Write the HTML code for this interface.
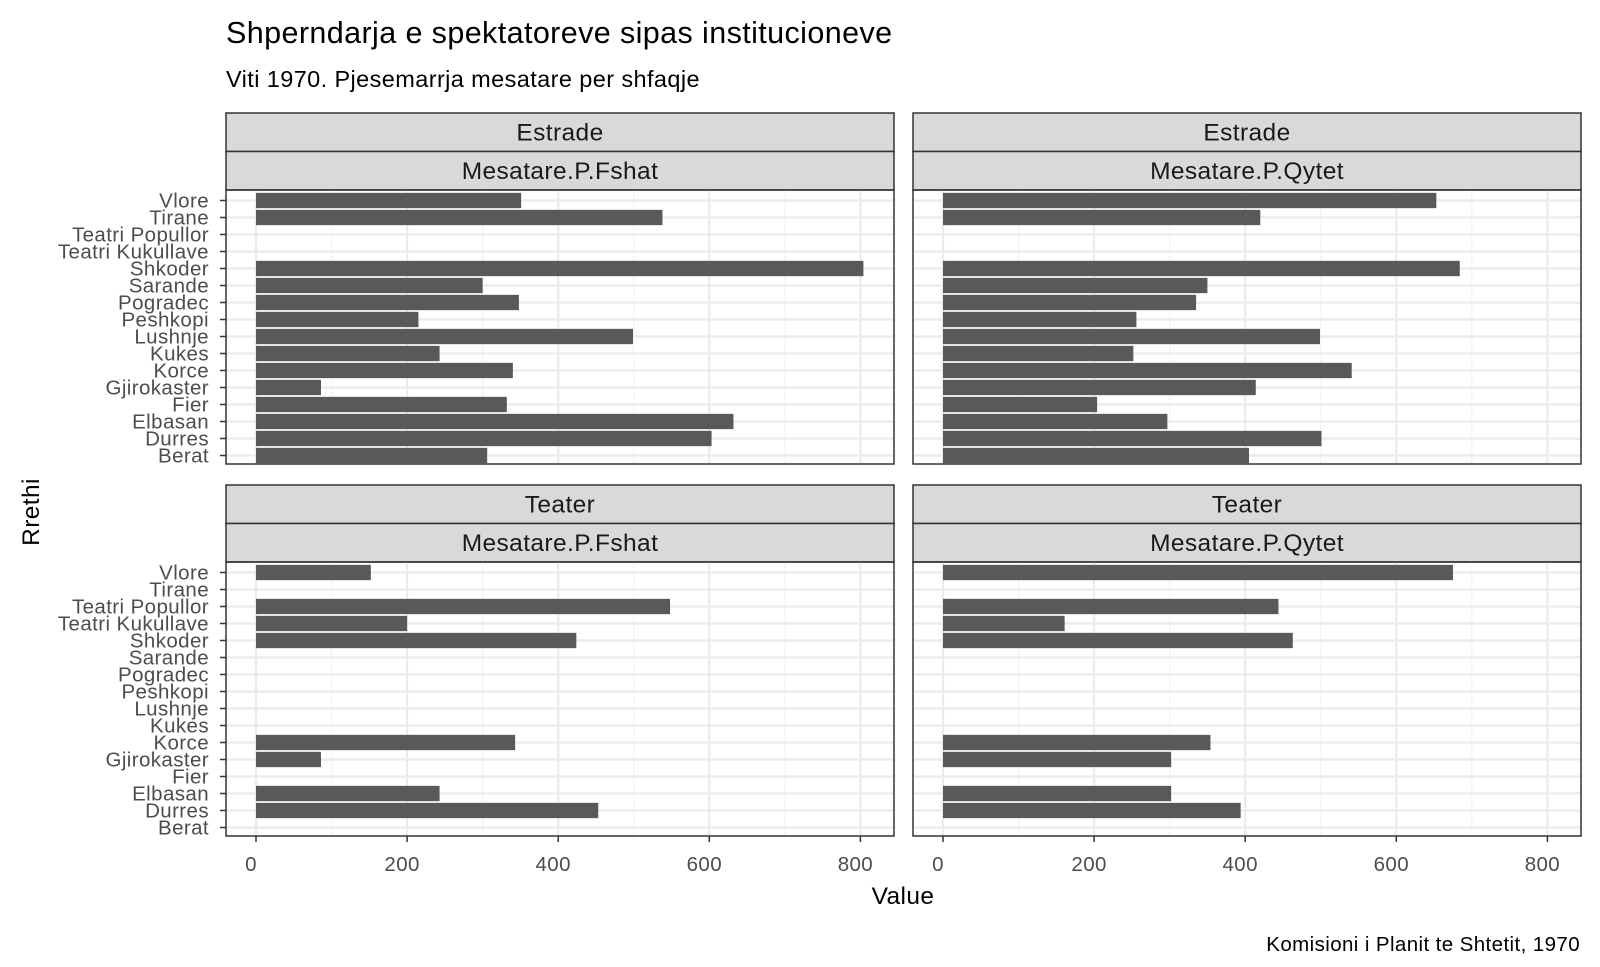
<!DOCTYPE html>
<html><head><meta charset="utf-8">
<style>
body{margin:0;background:#fff;}
svg{display:block;font-family:"Liberation Sans",Arial,sans-serif;}
svg text{letter-spacing:0.4px;}
</style></head>
<body>
<svg id="chart" width="1600" height="967" viewBox="0 0 1600 967">
<text x="226" y="43" font-size="30.5" fill="#000">Shperndarja e spektatoreve sipas institucioneve</text>
<text x="226" y="87" font-size="23.5" fill="#000">Viti 1970. Pjesemarrja mesatare per shfaqje</text>
<text x="903" y="904" font-size="24.5" text-anchor="middle" fill="#000">Value</text>
<text transform="translate(39,512) rotate(-90)" font-size="24.5" text-anchor="middle" fill="#000">Rrethi</text>
<text x="1580" y="951" font-size="20.5" text-anchor="end" fill="#000">Komisioni i Planit te Shtetit, 1970</text>
<g id="panels"></g>
</svg>
<script>
const categories = ["Vlore","Tirane","Teatri Popullor","Teatri Kukullave","Shkoder","Sarande","Pogradec","Peshkopi","Lushnje","Kukes","Korce","Gjirokaster","Fier","Elbasan","Durres","Berat"];
const estradeFshat = [351,538,null,null,804,300,348,215,499,243,340,86,332,632,603,306];
const estradeQytet = [653,420,null,null,684,350,335,256,499,252,541,414,204,297,501,405];
const teaterFshat = [152,null,548,200,424,null,null,null,null,null,343,86,null,243,453,null];
const teaterQytet = [675,null,444,161,463,null,null,null,null,null,354,302,null,302,394,null];
const xTicks = [0,200,400,600,800];
const facetTop = ["Estrade","Estrade","Teater","Teater"];
const facetSub = ["Mesatare.P.Fshat","Mesatare.P.Qytet","Mesatare.P.Fshat","Mesatare.P.Qytet"];

const NS="http://www.w3.org/2000/svg";
const root=document.getElementById('panels');
function mk(tag,attrs,parent){const e=document.createElementNS(NS,tag);for(const k in attrs)e.setAttribute(k,attrs[k]);(parent||root).appendChild(e);return e;}
const panelX=[226,913,226,913];
const panelY=[190,190,562,562];
const PW=668, PH=274, SH=38.5;
const series=[estradeFshat,estradeQytet,teaterFshat,teaterQytet];
const slug=["estrade-fshat","estrade-qytet","teater-fshat","teater-qytet"];
for(let p=0;p<4;p++){
  const px=panelX[p], py=panelY[p];
  const xs=v=>px+30+v*0.7555;
  const ys=i=>py+10.5+i*17.0;
  const g=mk('g',{});
  
  
  const s1=mk('rect',{x:px,y:py-2*SH,width:PW,height:SH,fill:'#d9d9d9',stroke:'#333','stroke-width':1.5},g);
  
  
  const t1=mk('text',{x:px+PW/2,y:py-SH-11,'font-size':24.5,'text-anchor':'middle',fill:'#1a1a1a'},g);
  t1.textContent=facetTop[p];
  
  
  const s2=mk('rect',{x:px,y:py-SH,width:PW,height:SH,fill:'#d9d9d9',stroke:'#333','stroke-width':1.5},g);
  
  
  const t2=mk('text',{x:px+PW/2,y:py-11,'font-size':24.5,'text-anchor':'middle',fill:'#1a1a1a'},g);
  t2.textContent=facetSub[p];
  
  
  for(let v=100;v<=900;v+=200){const x=xs(v);if(x<px+PW)mk('line',{x1:x,x2:x,y1:py,y2:py+PH,stroke:'#f2f2f2','stroke-width':1.2},g);}
  xTicks.forEach(v=>{mk('line',{x1:xs(v),x2:xs(v),y1:py,y2:py+PH,stroke:'#ebebeb','stroke-width':2.2},g);});
  categories.forEach((c,i)=>{mk('line',{x1:px,x2:px+PW,y1:ys(i),y2:ys(i),stroke:'#ebebeb','stroke-width':2.2},g);});
  series[p].forEach((v,i)=>{
    if(v==null)return;
    const b=mk('rect',{x:xs(0),y:ys(i)-7.65,width:xs(v)-xs(0),height:15.3,fill:'#595959'},g);
    
    
  });
  mk('rect',{x:px,y:py,width:PW,height:PH,fill:'none',stroke:'#333','stroke-width':1.5},g);
  if(p%2===0){
    categories.forEach((c,i)=>{
      mk('line',{x1:px-6,x2:px,y1:ys(i),y2:ys(i),stroke:'#333','stroke-width':1.5},g);
      const t=mk('text',{x:px-17,y:ys(i)+7,'font-size':20.5,'text-anchor':'end',fill:'#4d4d4d'},g);
      t.textContent=c;
      
      
    });
  }
  if(p>=2){
    xTicks.forEach(v=>{
      mk('line',{x1:xs(v),x2:xs(v),y1:py+PH,y2:py+PH+6,stroke:'#333','stroke-width':1.5},g);
      const t=mk('text',{x:xs(v)-5,y:871,'font-size':20.5,'text-anchor':'middle',fill:'#4d4d4d'},g);
      t.textContent=v;
      
      
    });
  }
}
</script>
</body></html>
